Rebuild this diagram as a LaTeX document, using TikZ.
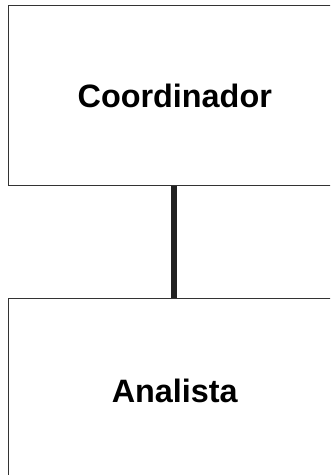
\documentclass[tikz,border=0pt]{standalone}
\usepackage{fontspec}
\setmainfont{Liberation Sans}
\usepackage{xcolor}
\definecolor{Box Line}{HTML}{333333}
\definecolor{Link Dark}{HTML}{222222}
\colorlet{cLine}{Box Line}
\colorlet{cLink}{Link Dark}
\usetikzlibrary{positioning}
\tikzset{
	node distance = 112.7bp,
	role/.style={
		draw=cLine,
		rectangle,
		line width=1bp,
		minimum width=332.5bp,
		inner sep=0pt,
		font=\fontsize{32.5}{39}\selectfont\bfseries
	},
	link/.style={
		-,
		draw=cLink,
		line width=6bp
	}
}
\begin{document}
\begin{tikzpicture}[x=1bp, y=-1bp]
		\useasboundingbox (0,0) rectangle (330,475);
		\clip (0,0) rectangle (330,475);

		\node[role, minimum height=179bp] (coord) at (174.75,95.5) {Coordinador};
		\node[role, minimum height=184.5bp, below=of coord] (analista) {Analista};

		\draw[link] ([xshift=-1bp]coord.south) to ([xshift=-1bp]analista.north);
	\end{tikzpicture}
\end{document}
